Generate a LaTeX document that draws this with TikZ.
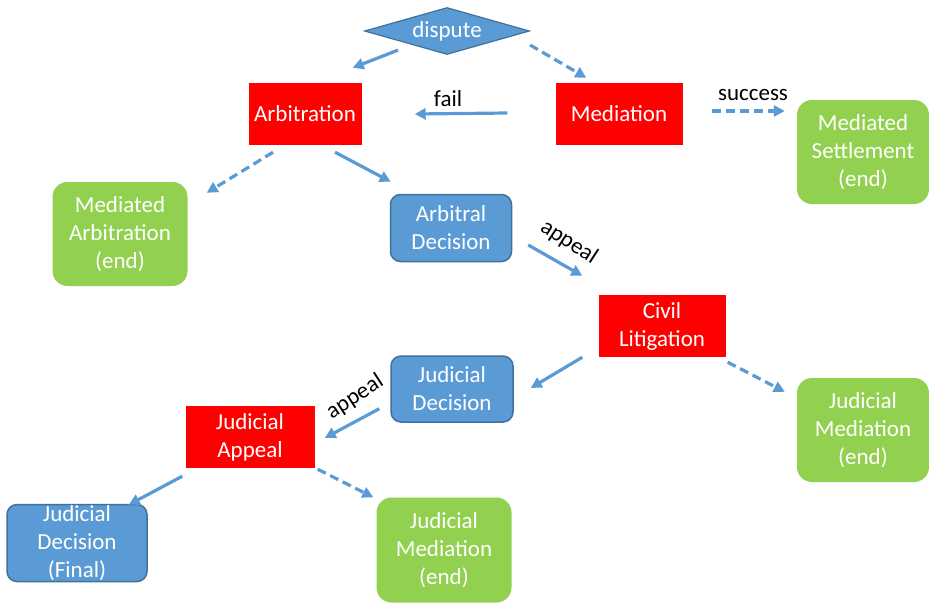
\documentclass[tikz,border=0pt]{standalone}
\usepackage{fontspec}
\setmainfont{Carlito}
\usetikzlibrary{shapes.geometric,arrows.meta}
\definecolor{boxblue}{HTML}{5B9BD5}
\definecolor{boxblueline}{HTML}{41719C}
\definecolor{boxgreen}{HTML}{92D050}
\definecolor{boxred}{HTML}{FF0000}
\definecolor{arrowblue}{HTML}{5B9BD5}
\begin{document}
\begin{tikzpicture}[x=1pt,y=-1pt,
  every node/.style={font=\fontsize{23}{28}\selectfont, align=center, inner sep=0pt},
  redbox/.style={fill=boxred, text=white},
  bluebox/.style={fill=boxblue, draw=boxblueline, line width=1.5pt, rounded corners=10pt, text=white},
  greenbox/.style={fill=boxgreen, rounded corners=15pt, text=white},
  arr/.style={draw=arrowblue, line width=3.2pt, -{Triangle[length=11pt,width=11pt]}},
  darr/.style={arr, dash pattern=on 9pt off 5pt},
  lbl/.style={text=black}
]
\useasboundingbox (0,0) rectangle (929,603);

\node[diamond, aspect=3.5, fill=boxblue, draw=boxblueline, line width=1.2pt, minimum width=165, minimum height=47, text=white] (dispute) at (447,31) {dispute};
\node[redbox, minimum width=113, minimum height=62] (arb) at (305,114) {Arbitration};
\node[redbox, minimum width=127, minimum height=62] (med) at (619,114) {Mediation};
\node[greenbox, minimum width=132, minimum height=104] (settle) at (863,152) {Mediated\\Settlement\\(end)};
\node[greenbox, minimum width=135, minimum height=104] (medarb) at (120,234) {Mediated\\Arbitration\\(end)};
\node[bluebox, minimum width=121, minimum height=67] (ad) at (451,228) {Arbitral\\Decision};
\node[redbox, minimum width=127, minimum height=62] (cl) at (662,326) {Civil\\Litigation};
\node[bluebox, minimum width=122, minimum height=66] (jd) at (452,389) {Judicial\\Decision};
\node[greenbox, minimum width=132, minimum height=104] (jmr) at (863,430) {Judicial\\Mediation\\(end)};
\node[redbox, minimum width=129, minimum height=62] (ja) at (250,437) {Judicial\\Appeal};
\node[bluebox, minimum width=140, minimum height=77] (jdf) at (77,543) {Judicial\\Decision\\(Final)};
\node[greenbox, minimum width=135, minimum height=105] (jmb) at (444,550) {Judicial\\Mediation\\(end)};

\draw[arr] ([shift={(-49,-5)}]dispute.south) -- ([shift={(-9,-15)}]arb.north east);
\draw[darr] ([shift={(0,14)}]dispute.east) -- ([shift={(31,-5)}]med.north west);
\draw[arr] ([shift={(-48,-1)}]med.west) -- ([shift={(53,0)}]arb.east);
\node[lbl] (fail) at (448,99) {fail};
\draw[darr] ([shift={(29,-3)}]med.east) -- ([shift={(-12,-41)}]settle.west);
\node[lbl] (success) at (753,95) {success};
\draw[darr] ([shift={(-32,7)}]arb.south) -- ([shift={(19,11)}]medarb.north east);
\draw[arr] ([shift={(30,7)}]arb.south) -- ([shift={(1,-12)}]ad.north west);
\draw[arr] ([shift={(16,17)}]ad.east) -- ([shift={(-16,-19)}]cl.north west);
\node[lbl, rotate=-33] (appeal1) at (569,242) {appeal};
\draw[arr] ([shift={(-16,0)}]cl.south west) -- ([shift={(17,-1)}]jd.east);
\draw[darr] ([shift={(2,5)}]cl.south east) -- ([shift={(-12,14)}]jmr.north west);
\draw[arr] ([shift={(-11,-14)}]jd.south west) -- ([shift={(10,1)}]ja.east);
\node[lbl, rotate=33] (appeal2) at (355,397) {appeal};
\draw[arr] ([shift={(-3,8)}]ja.south west) -- ([shift={(-19,1)}]jdf.north east);
\draw[darr] ([shift={(3,1)}]ja.south east) -- ([shift={(-3,0)}]jmb.north west);
\end{tikzpicture}
\end{document}
